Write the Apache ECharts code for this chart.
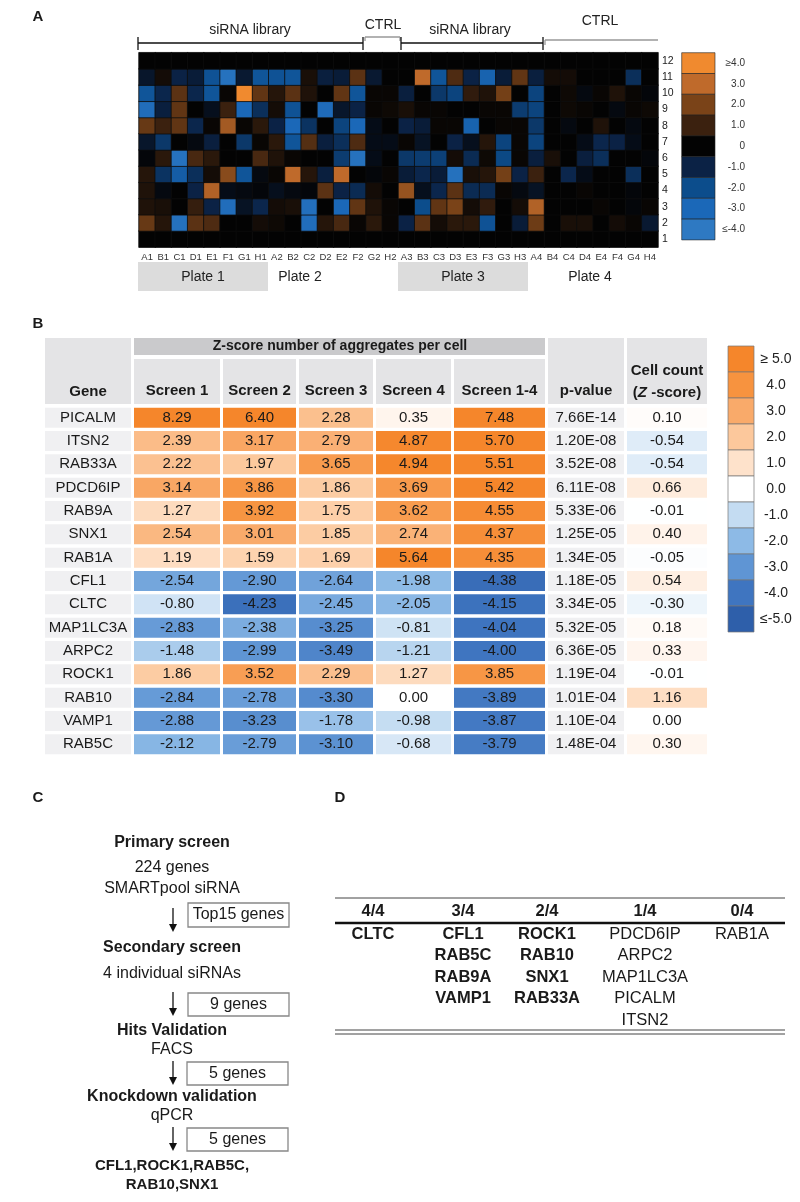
<!DOCTYPE html>
<html><head><meta charset="utf-8">
<script src="https://cdn.jsdelivr.net/npm/echarts@6/dist/echarts.min.js"></script>
<style>html,body{margin:0;padding:0;background:#fff}#c{width:800px;height:1202px}</style>
</head><body><div id="c"></div>
<script>
const FONT = '"Liberation Sans", Arial, Helvetica, sans-serif';

// ---------- Panel A data ----------
const wells = ['A1','B1','C1','D1','E1','F1','G1','H1','A2','B2','C2','D2','E2','F2','G2','H2',
               'A3','B3','C3','D3','E3','F3','G3','H3','A4','B4','C4','D4','E4','F4','G4','H4'];
const plateRows = ['1','2','3','4','5','6','7','8','9','10','11','12'];
const row12 = [0,0,0,0,0,0,0,0, 0,0,0,0,0,0,0,0, 0,0,0,0,0,0,0,0, 0,0,0,0,0,0,0,0];
const row11 = [-0.6,0.3,-1.0,-0.8,-2.2,-3.6,-0.7,-2.3, -2.2,-2.3,0.4,-0.9,-0.8,1.5,-0.7,0, 0,3.0,-2.3,1.3,-1.0,-2.8,-0.8,1.6, -0.9,0.3,0.3,0,0,0,-1.3,0];
const row10 = [-2.3,-1.1,1.5,-1.1,-2.3,0.1,4.2,1.6, 0.6,1.5,0.5,0,1.6,-2.3,0.1,0.1, -0.9,0,-1.5,-1.8,0.8,0.5,1.9,0, -1.8,0,0.2,-0.2,0.1,0.5,0.1,-0.1];
const row9  = [-3.3,-0.9,1.6,0,-0.4,1.0,-3.0,-1.3, 0.3,-2.2,0,-3.2,-0.6,-1.0,0.1,0.2, 0.4,0.1,0.1,0,0,0.1,0.1,-1.6, -1.8,0,0.2,0.1,0,-0.2,0.1,0.2];
const row8  = [1.7,1.0,1.6,-1.1,0.1,2.6,0.1,0.7, -1.0,-3.0,-1.4,0,-1.8,-3.0,-0.3,0, -1.0,-0.8,0.1,0.1,-2.8,0,0.1,0.1, -1.5,0,-0.2,0,0.5,0,-0.2,0];
const row7  = [-0.6,-1.5,0,-0.2,-0.9,0,-1.5,0.1, 0.7,-2.3,1.4,-0.9,-1.3,1.3,-0.3,-0.3, 0.1,-0.5,0,-1.0,-0.4,0.6,-1.8,0.1, -1.8,0,0,-0.3,-1.1,-1.0,-0.3,0];
const row6  = [-0.1,0.7,-3.6,1.2,0.7,0,0,1.2, 0.5,0.1,0,0,-1.6,-3.6,-0.3,0, -1.5,-1.6,-1.7,0.3,-1.2,0.2,-1.9,0.1, -0.9,0.4,0,-0.9,-1.3,0,0,-0.1];
const row5  = [0.6,-1.4,-2.6,-1.3,0.3,2.2,-2.3,-0.2, 0.1,3.0,0.6,-0.9,3.0,0,-0.1,0.1, -0.8,-1.1,-0.8,-3.5,0.4,0.6,1.9,-1.0, 1.0,0,-1.1,-0.3,0,0,-1.3,0];
const row4  = [0.5,-0.2,0,-1.0,2.8,-0.3,-0.2,-0.1, -0.4,-0.2,-0.1,1.5,-1.0,-1.2,0.3,0, 2.4,-0.4,-1.1,1.5,-1.2,-1.2,0.1,-0.2, -0.5,0,0,0.1,0,0,-0.1,0];
const row3  = [0.5,0.4,0,0.9,-1.0,-3.3,-0.5,-1.1, 0.3,0.4,-3.4,0,-3.0,1.6,0.5,0.1, 0,-2.0,1.6,2.0,0.3,0.8,0,0.3, 2.8,0,0,0,0.1,0,-0.1,0.1];
const row2  = [1.7,0.6,-3.5,1.5,1.3,0,0,0.3, 0.2,0,-3.3,0.6,1.2,0.1,0.7,0.1, -1.0,1.5,0.3,0.7,0.7,-2.2,0,-0.8, 1.8,0,0.4,0.4,0,0.3,0.1,-0.7];
const row1  = [0,0,0,0,0,0,0,0, 0,0,0,0,0,0,0,0, 0,0,0,0,0,0,0,0, 0,0,0,0,0,0,0,0];
const legendALabels = ['≥4.0','3.0','2.0','1.0','0','-1.0','-2.0','-3.0','≤-4.0'];

// ---------- Panel B data ----------
const genes = ['PICALM','ITSN2','RAB33A','PDCD6IP','RAB9A','SNX1','RAB1A','CFL1','CLTC','MAP1LC3A','ARPC2','ROCK1','RAB10','VAMP1','RAB5C'];
const screen1  = [8.29,2.39,2.22,3.14,1.27,2.54,1.19,-2.54,-0.80,-2.83,-1.48,1.86,-2.84,-2.88,-2.12];
const screen2  = [6.40,3.17,1.97,3.86,3.92,3.01,1.59,-2.90,-4.23,-2.38,-2.99,3.52,-2.78,-3.23,-2.79];
const screen3  = [2.28,2.79,3.65,1.86,1.75,1.85,1.69,-2.64,-2.45,-3.25,-3.49,2.29,-3.30,-1.78,-3.10];
const screen4  = [0.35,4.87,4.94,3.69,3.62,2.74,5.64,-1.98,-2.05,-0.81,-1.21,1.27,0.00,-0.98,-0.68];
const screen14 = [7.48,5.70,5.51,5.42,4.55,4.37,4.35,-4.38,-4.15,-4.04,-4.00,3.85,-3.89,-3.87,-3.79];
const pValues  = ['7.66E-14','1.20E-08','3.52E-08','6.11E-08','5.33E-06','1.25E-05','1.34E-05','1.18E-05','3.34E-05','5.32E-05','6.36E-05','1.19E-04','1.01E-04','1.10E-04','1.48E-04'];
const cellCount = [0.10,-0.54,-0.54,0.66,-0.01,0.40,-0.05,0.54,-0.30,0.18,0.33,-0.01,1.16,0.00,0.30];
const screenHeaders = ['Screen 1','Screen 2','Screen 3','Screen 4','Screen 1-4'];
const legendBLabels = ['≥ 5.0','4.0','3.0','2.0','1.0','0.0','-1.0','-2.0','-3.0','-4.0','≤-5.0'];

// ---------- Panel C data ----------
const flowSteps = [
  {title:'Primary screen', lines:['224 genes','SMARTpool siRNA']},
  {title:'Secondary screen', lines:['4 individual siRNAs']},
  {title:'Hits Validation', lines:['FACS']},
  {title:'Knockdown validation', lines:['qPCR']}
];
const flowBoxes = ['Top15 genes','9 genes','5 genes','5 genes'];
const finalHits = ['CFL1,ROCK1,RAB5C,','RAB10,SNX1'];

// ---------- Panel D data ----------
const dHeaders = ['4/4','3/4','2/4','1/4','0/4'];
const d44 = ['CLTC'];
const d34 = ['CFL1','RAB5C','RAB9A','VAMP1'];
const d24 = ['ROCK1','RAB10','SNX1','RAB33A'];
const d14 = ['PDCD6IP','ARPC2','MAP1LC3A','PICALM','ITSN2'];
const d04 = ['RAB1A'];

// ---------- styles / layout ----------
const colorsA = ['#F08A2F','#BF6A2B','#7A4318','#3B210F','#030303','#0B2245','#0C4D8C','#1B68B8','#2E79C2'];
const colorsB = ['#F5862B','#F7933F','#F9AA6A','#FCC89C','#FEE2CB','#FFFFFF','#C4DCF2','#8DBAE6','#5F95D4','#3F75C0','#2E5FAA'];

const chart = echarts.init(document.getElementById('c'), null, {renderer:'canvas'});

const G = [];
function T(x, y, text, o) {
  o = o || {};
  G.push({type:'text', x:x, y:y, silent:true, style:Object.assign({
    text:text, fill:o.fill||'#1a1a1a', fontSize:o.size||14, fontWeight:o.bold?'bold':'normal',
    fontFamily:FONT, align:o.align||'center', textAlign:o.align||'center',
    verticalAlign:'middle', textVerticalAlign:'middle'}, o.rich?{rich:o.rich}:{})});
}
function R(x, y, w, h, fill, stroke, lw) {
  G.push({type:'rect', silent:true, shape:{x:x,y:y,width:w,height:h},
    style:{fill:fill||'none', stroke:stroke||null, lineWidth:lw||0}});
}
function L(x1, y1, x2, y2, color, lw) {
  G.push({type:'line', silent:true, shape:{x1:x1,y1:y1,x2:x2,y2:y2}, style:{stroke:color||'#000', lineWidth:lw||1}});
}
function ARROW(x, y1, y2) {
  L(x, y1, x, y2-6, '#111', 1.3);
  G.push({type:'polygon', silent:true, shape:{points:[[x-4,y2-8],[x+4,y2-8],[x,y2]]}, style:{fill:'#111'}});
}

// Panel labels
T(38, 17, 'A', {bold:true, size:15});
T(38, 324, 'B', {bold:true, size:15});
T(38, 798, 'C', {bold:true, size:15});
T(340, 798, 'D', {bold:true, size:15});

// Panel A brackets
L(138,43,363,43,'#111',1.3); L(138,37,138,50,'#111',1.3); L(363,37,363,50,'#111',1.3);
T(250, 30, 'siRNA library', {size:14, fill:'#222'});
L(365,37,400,37,'#999',1.3); L(365,37,365,41,'#999',1.3); L(400,37,400,41,'#999',1.3);
T(383, 25, 'CTRL', {size:14, fill:'#222'});
L(401,43,543,43,'#111',1.3); L(401,37,401,50,'#111',1.3); L(543,37,543,50,'#111',1.3);
T(470, 30, 'siRNA library', {size:14, fill:'#222'});
L(545,40,658,40,'#999',1.3); L(545,40,545,45,'#999',1.3);
T(600, 21, 'CTRL', {size:14, fill:'#222'});
// plate labels
R(138,262,130,29,'#DCDCDC'); R(398,262,130,29,'#DCDCDC');
T(203, 277, 'Plate 1', {size:14, fill:'#222'});
T(300, 277, 'Plate 2', {size:14, fill:'#222'});
T(463, 277, 'Plate 3', {size:14, fill:'#222'});
T(590, 277, 'Plate 4', {size:14, fill:'#222'});
// legend A
legendALabels.forEach((lab, i) => {
  R(681.7, 52.7 + i*20.8, 33.3, 20.8, colorsA[i], '#222', 0.6);
  T(745, 63 + i*20.8, lab, {size:10, fill:'#333', align:'right'});
});

// Panel B headers
const colB = [{l:45,w:86},{l:134,w:86},{l:223,w:73},{l:299,w:74},{l:376,w:75},{l:454,w:91},{l:548,w:76},{l:627,w:80}];
R(45,338,86,66,'#E4E4E6'); T(88, 392, 'Gene', {bold:true, size:15});
R(134,338,411,17,'#CACACC'); T(340, 346.5, 'Z-score number of aggregates per cell', {bold:true, size:14});
screenHeaders.forEach((h, i) => {
  const c = colB[i+1];
  R(c.l,359,c.w,45,'#E4E4E6'); T(c.l + c.w/2, 391, h, {bold:true, size:15});
});
R(548,338,76,66,'#E4E4E6'); T(586, 391, 'p-value', {bold:true, size:15});
R(627,338,80,66,'#E4E4E6'); T(667, 371, 'Cell count', {bold:true, size:15});
T(667, 393, '({i|Z} -score)', {bold:true, size:15, rich:{i:{fontStyle:'italic', fontWeight:'bold', fontSize:15, fontFamily:FONT, fill:'#1a1a1a'}}});
// legend B
legendBLabels.forEach((lab, i) => {
  R(728, 346 + i*26, 26, 26, colorsB[i], '#777', 0.7);
  T(776, 359 + i*26, lab, {size:14, fill:'#222'});
});

// Panel C flowchart
const cx = 172;
T(cx, 843, flowSteps[0].title, {bold:true, size:16});
T(cx, 868, flowSteps[0].lines[0], {size:16});
T(cx, 889, flowSteps[0].lines[1], {size:16});
ARROW(173, 908, 932); R(188,903,101,24,'#fff','#888',1.3); T(238.5, 915, flowBoxes[0], {size:16});
T(cx, 948, flowSteps[1].title, {bold:true, size:16});
T(cx, 974, flowSteps[1].lines[0], {size:16});
ARROW(173, 992, 1016); R(188,993,101,23,'#fff','#888',1.3); T(238.5, 1005, flowBoxes[1], {size:16});
T(cx, 1031, flowSteps[2].title, {bold:true, size:16});
T(cx, 1050, flowSteps[2].lines[0], {size:16});
ARROW(173, 1061, 1085); R(187,1062,101,23,'#fff','#888',1.3); T(237.5, 1074, flowBoxes[2], {size:16});
T(cx, 1097, flowSteps[3].title, {bold:true, size:16});
T(cx, 1116, flowSteps[3].lines[0], {size:16});
ARROW(173, 1127, 1151); R(187,1128,101,23,'#fff','#888',1.3); T(237.5, 1140, flowBoxes[3], {size:16});
T(cx, 1166, finalHits[0], {bold:true, size:15});
T(cx, 1185, finalHits[1], {bold:true, size:15});

// Panel D table
L(335,898,785,898,'#444',1);
const dCols = [373,463,547,645,742];
dHeaders.forEach((h,i) => T(dCols[i], 911, h, {bold:true, size:16.5}));
L(335,923,785,923,'#111',2.6);
[d44,d34,d24,d14,d04].forEach((list, ci) => list.forEach((g, ri) =>
  T(dCols[ci], 934 + ri*21.6, g, {bold: ci < 3, size:16.5})));
L(335,1030,785,1030,'#444',1); L(335,1034,785,1034,'#444',1);

// ---------- Series ----------
const rowsA = [row1,row2,row3,row4,row5,row6,row7,row8,row9,row10,row11,row12];
const heatData = [];
rowsA.forEach((arr, ri) => arr.forEach((v, ci) => heatData.push([ci, ri, v])));

const grids = [{left:139, top:52.7, width:519, height:194.5}];
const xAxes = [{type:'category', gridIndex:0, data:wells, axisLine:{show:false}, axisTick:{show:false},
  axisLabel:{interval:0, fontSize:9.5, color:'#333', margin:5, fontFamily:FONT}, splitLine:{show:false}}];
const yAxes = [{type:'category', gridIndex:0, data:plateRows, position:'right', axisLine:{show:false}, axisTick:{show:false},
  axisLabel:{fontSize:10.5, color:'#222', margin:4, fontFamily:FONT}, splitLine:{show:false}}];
const series = [{type:'heatmap', xAxisIndex:0, yAxisIndex:0, data:heatData, silent:true,
  itemStyle:{borderColor:'#0d0d0d', borderWidth:0.8}, emphasis:{disabled:true}}];

const colData = [null, screen1, screen2, screen3, screen4, screen14, null, cellCount];
const numericSeries = [];
colB.forEach((c, i) => {
  grids.push({left:c.l, top:406, width:c.w, height:350});
  xAxes.push({type:'category', gridIndex:i+1, data:['v'], show:false});
  yAxes.push({type:'category', gridIndex:i+1, data:genes, inverse:true, show:false});
  let data, kind;
  if (i === 0) { kind='gene'; data = genes.map((g, r) => [0, r, 0]); }
  else if (i === 6) { kind='p'; data = pValues.map((p, r) => [0, r, 0]); }
  else { kind='num'; data = colData[i].map((v, r) => [0, r, v]); numericSeries.push(series.length); }
  series.push({
    type:'custom', xAxisIndex:i+1, yAxisIndex:i+1, silent:true, clip:false, data:data,
    encode:{x:0, y:1},
    renderItem: function(params, api) {
      const p = api.coord([api.value(0), api.value(1)]);
      const s = api.size([1, 1]);
      const h = 20, w = s[0];
      let fill, txt;
      const r = api.value(1);
      if (kind === 'gene') { fill = '#F0F0F2'; txt = genes[r]; }
      else if (kind === 'p') { fill = '#F0F0F2'; txt = pValues[r]; }
      else { fill = api.visual('color'); txt = api.value(2).toFixed(2); }
      return {type:'group', children:[
        {type:'rect', shape:{x:p[0]-w/2, y:p[1]-h/2, width:w, height:h}, style:{fill:fill}},
        {type:'text', x:p[0], y:p[1], style:{text:txt, fill:'#1a1a1a', fontSize:15, fontFamily:FONT,
          align:'center', textAlign:'center', verticalAlign:'middle', textVerticalAlign:'middle'}}
      ]};
    }
  });
});

chart.setOption({
  animation:false,
  backgroundColor:'#ffffff',
  grid:grids, xAxis:xAxes, yAxis:yAxes,
  visualMap:[
    {type:'continuous', show:false, min:-4, max:4, dimension:2, seriesIndex:[0], inRange:{color:colorsA.slice().reverse()}},
    {type:'continuous', show:false, min:-5, max:5, dimension:2, seriesIndex:numericSeries, inRange:{color:colorsB.slice().reverse()}}
  ],
  series:series,
  graphic:{elements:G}
});
</script></body></html>
